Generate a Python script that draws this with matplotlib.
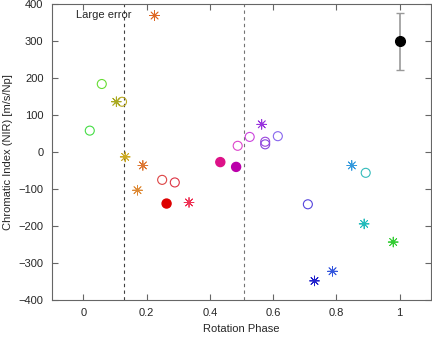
import numpy as np
import matplotlib
matplotlib.use('Agg')
import matplotlib.pyplot as plt

plt.rcParams['font.family'] = ['Liberation Sans', 'DejaVu Sans']
plt.rcParams['font.size'] = 8
plt.rcParams['text.color'] = '0.15'
plt.rcParams['axes.labelcolor'] = '0.15'

# open circles
open_phase = [0.02, 0.058, 0.122, 0.249, 0.289, 0.488, 0.526, 0.575, 0.575, 0.615, 0.71, 0.893]
open_ci = [58, 184, 136, -75, -82, 17, 41, 28, 21, 43, -141, -56]
open_col = ['#44dd44', '#66dd33', '#bbaa22', '#dd4444', '#dd3344', '#dd44cc',
            '#cc44dd', '#9944dd', '#8844dd', '#8866ee', '#5544dd', '#33bbbb']

# asterisks
star_phase = [0.104, 0.132, 0.171, 0.188, 0.225, 0.334, 0.564, 0.731, 0.788, 0.849, 0.888, 0.98]
star_ci = [136, -13, -103, -36, 369, -136, 75, -348, -322, -36, -194, -243]
star_col = ['#aaaa22', '#ccaa22', '#dd8833', '#dd7733', '#dd6622', '#ee3355',
            '#9933dd', '#2222cc', '#3355dd', '#3399dd', '#22bbbb', '#33cc33']

# filled circles
fill_phase = [0.263, 0.433, 0.483]
fill_ci = [-139, -27, -40]
fill_col = ['#dd0000', '#dd1188', '#bb00aa']

# typical error bar
err_phase = 1.0
err_ci = 300
err_size = 77

large_err_x = [0.129, 0.507]

fig = plt.figure(figsize=(4.32, 3.38), dpi=100)
ax = fig.add_axes([0.12, 0.112, 0.878, 0.876])

for x in large_err_x:
    ax.axvline(x, color='0.25' if x < 0.3 else '0.45', ls=(0, (3, 3)), lw=0.8, zorder=1)

ax.scatter(open_phase, open_ci, s=42, facecolors='none', edgecolors=open_col, linewidths=0.8, zorder=3)
ax.scatter(star_phase, star_ci, s=50, marker=(8, 2, 0), c=star_col, linewidths=0.6, zorder=3)
ax.scatter(star_phase, star_ci, s=3, c=star_col, zorder=3)
ax.scatter(fill_phase, fill_ci, s=42, c=fill_col, zorder=3)
ax.errorbar([err_phase], [err_ci], yerr=[err_size], fmt='o', color='black', ms=7,
            ecolor='#999999', elinewidth=1.2, capsize=3, capthick=1, zorder=4)

ax.text(-0.022, 370, 'Large error', ha='left', va='center', fontsize=8)

ax.set_xlim(-0.1, 1.1)
ax.set_ylim(-400, 400)
ax.set_xticks([0, 0.2, 0.4, 0.6, 0.8, 1])
ax.set_xticklabels(['0', '0.2', '0.4', '0.6', '0.8', '1'])
ax.set_yticks(np.arange(-400, 401, 100))
ax.tick_params(direction='in', top=True, right=True, length=4, width=0.8, color='0.4',
               labelcolor='0.15', pad=6)
for s in ax.spines.values():
    s.set_color('0.4')
    s.set_linewidth(0.8)
ax.set_xlabel('Rotation Phase')
ax.set_ylabel('Chromatic Index (NIR) [m/s/Np]')

fig.savefig('out.png', dpi=100)
